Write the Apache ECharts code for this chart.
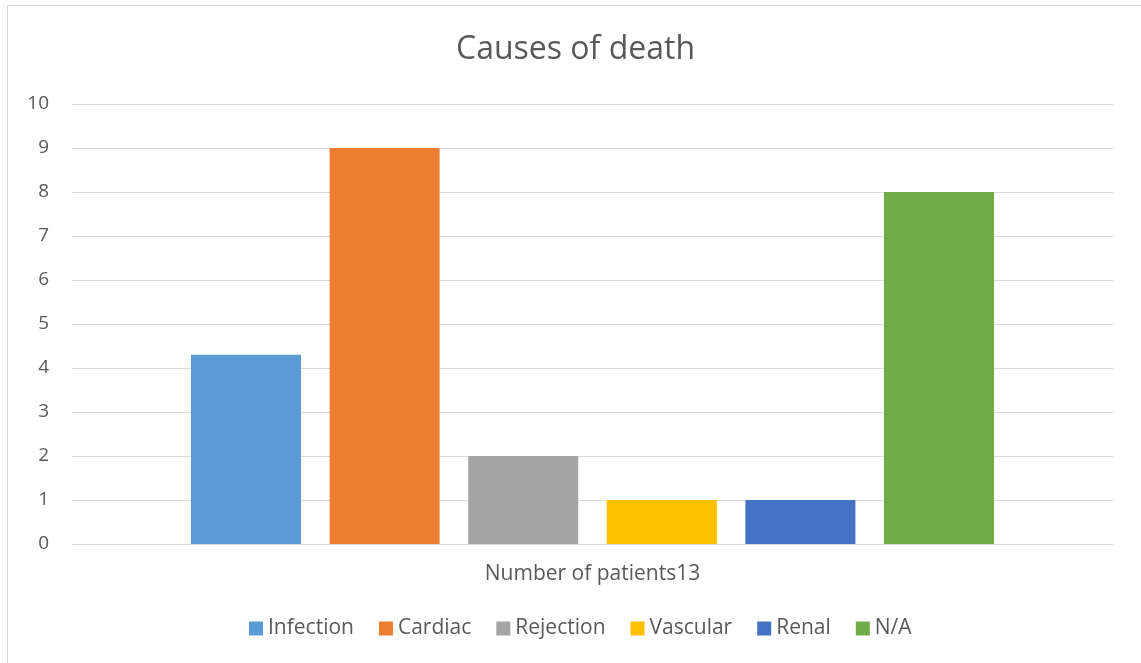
<!DOCTYPE html>
<html>
<head>
<meta charset="utf-8">
<script src="https://cdn.jsdelivr.net/npm/echarts@6/dist/echarts.min.js"></script>
<style>
	html, body { margin: 0; padding: 0; background: #fff; }
	#frame { position: absolute; left: 7px; top: 5px; width: 1160px; height: 680px; border: 1px solid #d9d9d9; box-sizing: border-box; }
	#chart { position: absolute; left: 0; top: 0; width: 1141px; height: 663px; }
</style>
</head>
<body>
<div id="frame"></div>
<div id="chart"></div>
<script>
// single category, one series per cause
var categories = ['Number of patients13'];
var causes = ['Infection', 'Cardiac', 'Rejection', 'Vascular', 'Renal', 'N/A'];
var values = [4.3, 9, 2, 1, 1, 8];
var colors = ['#5b9bd5', '#ed7d31', '#a5a5a5', '#ffc000', '#4472c4', '#70ad47'];

var chart = echarts.init(document.getElementById('chart'));
var font = 'Open Sans, Liberation Sans, sans-serif';

chart.setOption({
	animation: false,
	title: {
		text: 'Causes of death',
		left: 451,
		top: 29,
		textStyle: { fontFamily: font, fontSize: 32, fontWeight: 'normal', color: '#595959' }
	},
	legend: {
		left: 244,
		bottom: 19,
		itemWidth: 14,
		itemHeight: 14,
		itemGap: 25,
		icon: 'rect',
		textStyle: { fontFamily: font, fontSize: 21, color: '#595959' },
		data: causes
	},
	grid: { left: 72, right: 28, top: 104, bottom: 119 },
	xAxis: {
		type: 'category',
		data: categories,
		axisLine: { lineStyle: { color: '#d9d9d9', width: 1 } },
		axisTick: { show: false },
		axisLabel: { fontFamily: font, fontSize: 21, color: '#595959', margin: 20 }
	},
	yAxis: {
		type: 'value',
		min: 0,
		max: 10,
		interval: 1,
		axisLine: { show: false },
		axisTick: { show: false },
		splitLine: { lineStyle: { color: '#d9d9d9', width: 1 } },
		axisLabel: { fontFamily: font, fontSize: 19, color: '#595959', margin: 23 }
	},
	series: causes.map((name, i) => ({
		name: name,
		type: 'bar',
		data: [values[i]],
		barWidth: 110,
		barGap: '26%',
		itemStyle: { color: colors[i] }
	}))
});
</script>
</body>
</html>
